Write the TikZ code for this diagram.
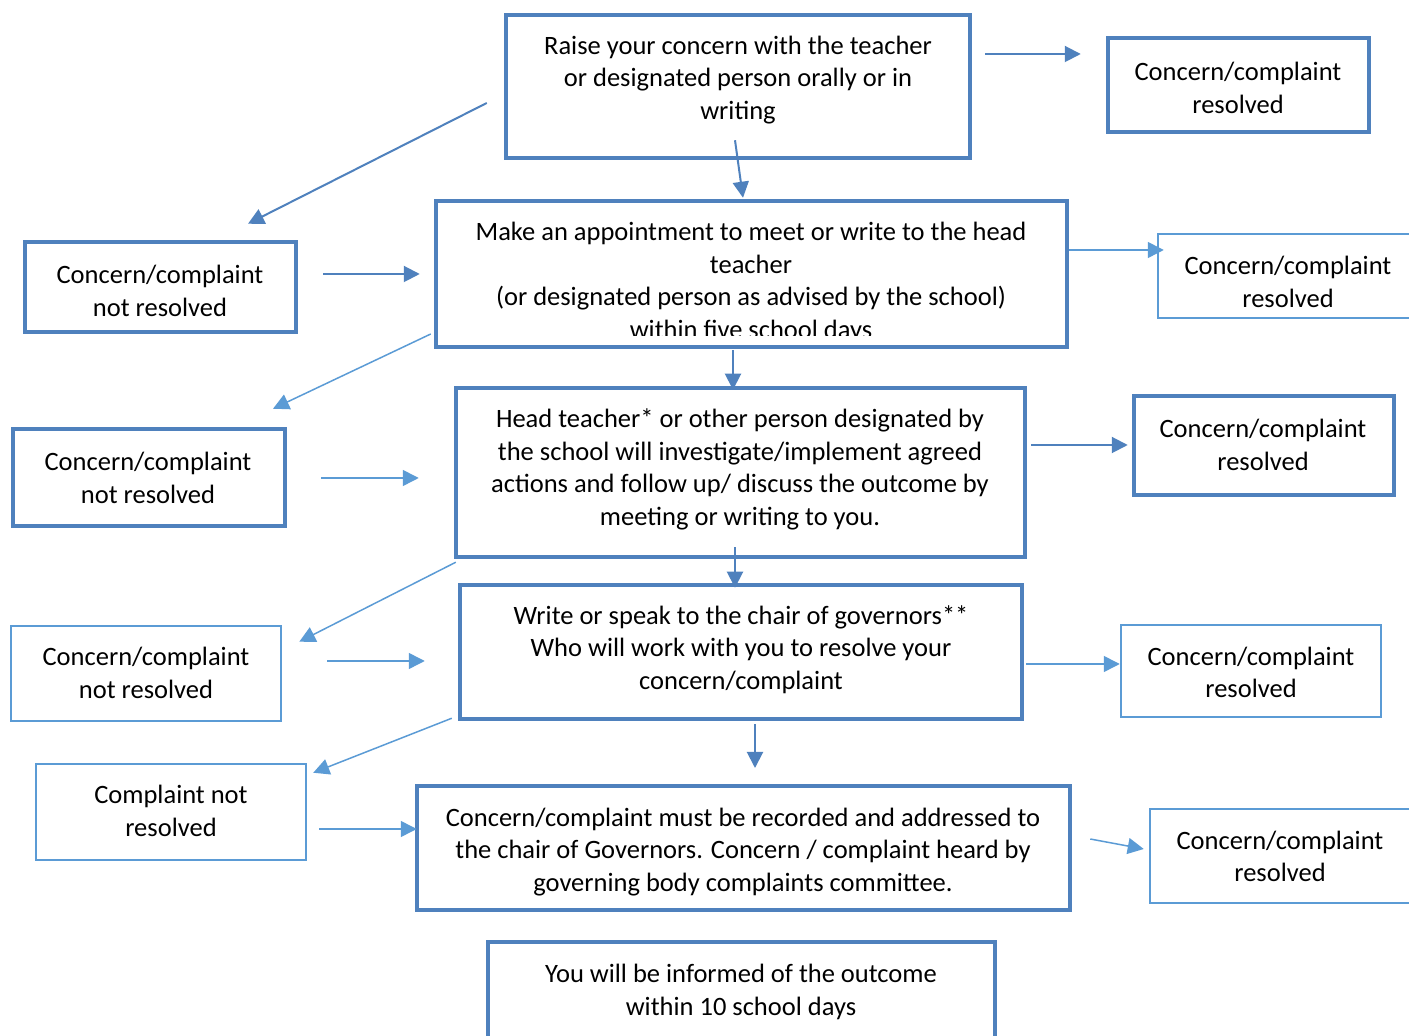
\documentclass[tikz,border=0pt]{standalone}
\usepackage{fontspec}
\setmainfont{Carlito}
\usetikzlibrary{arrows.meta}
\definecolor{darkb}{HTML}{4F81BD}
\definecolor{lightb}{HTML}{5B9BD5}
\tikzset{
  mainbox/.style={draw=darkb, line width=2.25pt, rectangle, inner sep=0pt},
  thinbox/.style={draw=lightb, line width=1.25pt, rectangle, inner sep=0pt},
  txt/.style={inner sep=0pt, align=center, font=\fontsize{13.25}{16.25}\selectfont, yshift=-0.9pt},
  darr/.style={draw=darkb, line width=1pt, -{Triangle[length=8pt,width=8pt]}},
  larr/.style={draw=lightb, line width=0.75pt, -{Triangle[length=8pt,width=8pt]}},
}
\begin{document}
\begin{tikzpicture}[x=0.5pt,y=-0.5pt]
\useasboundingbox (0,0) rectangle (1409,1036);
% main boxes
\node[mainbox, minimum width=232pt, minimum height=71.5pt] (B1) at (738,86.5) {};
\node[mainbox, minimum width=315.5pt, minimum height=73pt] (B2) at (751.5,274) {};
\node[mainbox, minimum width=284.5pt, minimum height=84.5pt] (B3) at (740.5,472.5) {};
\node[mainbox, minimum width=281pt, minimum height=67pt] (B4) at (741,652) {};
\node[mainbox, minimum width=326.5pt, minimum height=62pt] (B5) at (743.5,848) {};
\node[mainbox, minimum width=253.5pt, minimum height=59pt] (B6) at (741.5,1001) {};
% left boxes
\node[mainbox, minimum width=135.5pt, minimum height=45pt] (L1) at (160.5,287) {};
\node[mainbox, minimum width=136pt, minimum height=48.5pt] (L2) at (149,477.5) {};
\node[thinbox, minimum width=135pt, minimum height=47.5pt] (L3) at (146,673.5) {};
\node[thinbox, minimum width=135pt, minimum height=48pt] (L4) at (171,812) {};
% right boxes
\node[mainbox, minimum width=130.5pt, minimum height=47pt] (R1) at (1238.5,85) {};
\node[thinbox, minimum width=141pt, minimum height=42pt] (R2) at (1299,276) {};
\node[mainbox, minimum width=130pt, minimum height=49.5pt] (R3) at (1264,445.5) {};
\node[thinbox, minimum width=130pt, minimum height=46pt] (R4) at (1251,671) {};
\node[thinbox, minimum width=145pt, minimum height=47pt] (R5) at (1295,856) {};
% texts
\node[txt] (B1t) at (738,78) {Raise your concern with the teacher\\or designated person orally or in\\writing};
\begin{scope}
\clip (440,205) rectangle (1063,336);
\node[txt] (B2t) at (751,280.5) {Make an appointment to meet or write to the head\\teacher\\(or designated person as advised by the school)\\within five school days};
\end{scope}
\node[txt] (B3t) at (740,467.5) {Head teacher* or other person designated by\\the school will investigate/implement agreed\\actions and follow up/ discuss the outcome by\\meeting or writing to you.};
\node[txt] (B4t) at (741,647.5) {Write or speak to the chair of governors**\\Who will work with you to resolve your\\concern/complaint};
\node[txt] (B5t) at (743,850) {Concern/complaint must be recorded and addressed to\\the chair of Governors. Concern / complaint heard by\\governing body complaints committee.};
\node[txt] (B6t) at (741,990) {You will be informed of the outcome\\within 10 school days};
\node[txt] (L1t) at (160,289) {Concern/complaint\\not resolved};
\node[txt] (L2t) at (148,476) {Concern/complaint\\not resolved};
\node[txt] (L3t) at (146,671) {Concern/complaint\\not resolved};
\node[txt] (L4t) at (171,809) {Complaint not\\resolved};
\node[txt] (R1t) at (1238,86) {Concern/complaint\\resolved};
\node[txt] (R2t) at (1288,280) {Concern/complaint\\resolved};
\node[txt] (R3t) at (1263,443) {Concern/complaint\\resolved};
\node[txt] (R4t) at (1251,670.5) {Concern/complaint\\resolved};
\node[txt] (R5t) at (1280,854.5) {Concern/complaint\\resolved};
\coordinate (d15) at (755,768);
% arrows
\draw[darr] ([shift={(13,-32.5)}]B1.east) -- ([shift={(-25,-31)}]R1.west);
\draw[darr] ([shift={(-17,16.5)}]B1.west) -- ([shift={(87.5,-16)}]L1.north);
\draw[darr] ([shift={(-3,-20)}]B1.south) -- ([shift={(-8.5,-1)}]B2.north);
\draw[darr] ([shift={(25,-13)}]L1.east) -- ([shift={(-14,0)}]B2.west);
\draw[larr] ([shift={(0,-24)}]B2.east) -- ([shift={(7,-26)}]R2.west);
\draw[larr] ([shift={(-3,60)}]B2.west) -- ([shift={(124,-18)}]L2.north);
\draw[darr] ([shift={(-18.5,1)}]B2.south) -- ([shift={(-7.5,4)}]B3.north);
\draw[larr] ([shift={(34,0.5)}]L2.east) -- ([shift={(-35,5.5)}]B3.west);
\draw[darr] ([shift={(4,-27.5)}]B3.east) -- ([shift={(-4,-0.5)}]R3.west);
\draw[larr] ([shift={(2,3)}]B3.south west) -- ([shift={(17,17)}]L3.north east);
\draw[darr] ([shift={(-5.5,-12)}]B3.south) -- ([shift={(-6,5)}]B4.north);
\draw[larr] ([shift={(45,-12.5)}]L3.east) -- ([shift={(-33,9)}]B4.west);
\draw[larr] ([shift={(2,12)}]B4.east) -- ([shift={(0,-7)}]R4.west);
\draw[larr] ([shift={(-6,-3)}]B4.south west) -- ([shift={(6,10)}]L4.north east);
\draw[darr] ([shift={(14,3)}]B4.south) -- (d15);
\draw[larr] ([shift={(12,17)}]L4.east) -- ([shift={(2,-19)}]B5.west);
\draw[larr] ([shift={(18,-9)}]B5.east) -- ([shift={(-5,-7)}]R5.west);
\end{tikzpicture}
\end{document}
